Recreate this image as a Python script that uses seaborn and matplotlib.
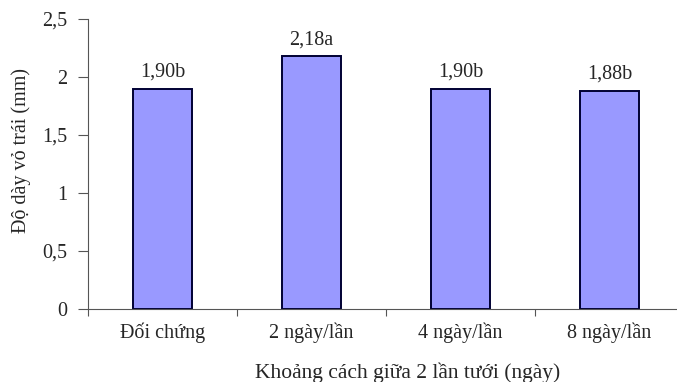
import matplotlib
matplotlib.use("Agg")
import matplotlib.pyplot as plt
import seaborn as sns
import pandas as pd

categories = ["Đối chứng", "2 ngày/lần", "4 ngày/lần", "8 ngày/lần"]
values = [1.90, 2.18, 1.90, 1.88]
letters = ["b", "a", "b", "b"]
y_ticks = [0, 0.5, 1, 1.5, 2, 2.5]
y_tick_labels = ["0", "0,5", "1", "1,5", "2", "2,5"]

sns.set_theme(style="white", rc={"xtick.bottom": True, "ytick.left": True})
plt.rcParams["font.family"] = ["Liberation Serif", "DejaVu Serif"]

df = pd.DataFrame({"cat": categories, "val": values})

fig = plt.figure(figsize=(6.77, 3.82), dpi=100)
ax = fig.add_axes([88 / 677, 73 / 382, 596 / 677, 290 / 382])

sns.barplot(data=df, x="cat", y="val", ax=ax, color="#9999FF", saturation=1,
            width=0.4, edgecolor="#000033", linewidth=1.4)

fs = 14.5
ax.set_ylim(0, 2.5)
ax.set_xlim(-0.5, 3.5)
ax.set_yticks(y_ticks)
ax.set_yticklabels(y_tick_labels, fontsize=fs)
ax.set_xticks([0, 1, 2, 3])
ax.set_xticklabels(categories, fontsize=fs)
# ticks sit at category boundaries; labels are centered under the bars
ax.set_xticks([-0.5, 0.5, 1.5, 2.5, 3.5], minor=True)
ax.tick_params(axis="x", which="major", length=0, pad=10, bottom=False)
ax.tick_params(axis="x", which="minor", length=5, width=0.8, color="#555555",
               direction="out", bottom=True)
ax.tick_params(axis="y", length=7, width=0.8, color="#555555", direction="out",
               pad=8, left=True)

for s in ["top", "right"]:
    ax.spines[s].set_visible(False)
for s in ["left", "bottom"]:
    ax.spines[s].set_color("#555555")
    ax.spines[s].set_linewidth(0.8)

for i, (v, l) in enumerate(zip(values, letters)):
    ax.annotate(f"{v:.2f}".replace(".", ",") + l, (i, v), xytext=(0, 5),
                textcoords="offset points", ha="center", va="bottom", fontsize=fs)

ax.set_xlabel("Khoảng cách giữa 2 lần tưới (ngày)", fontsize=15.5)
ax.set_ylabel("Độ dày vỏ trái (mm)", fontsize=fs)
ax.xaxis.set_label_coords(0.537, -0.185)
ax.yaxis.set_label_coords(-0.0956, 0.545)

fig.savefig("out.png", dpi=100)
